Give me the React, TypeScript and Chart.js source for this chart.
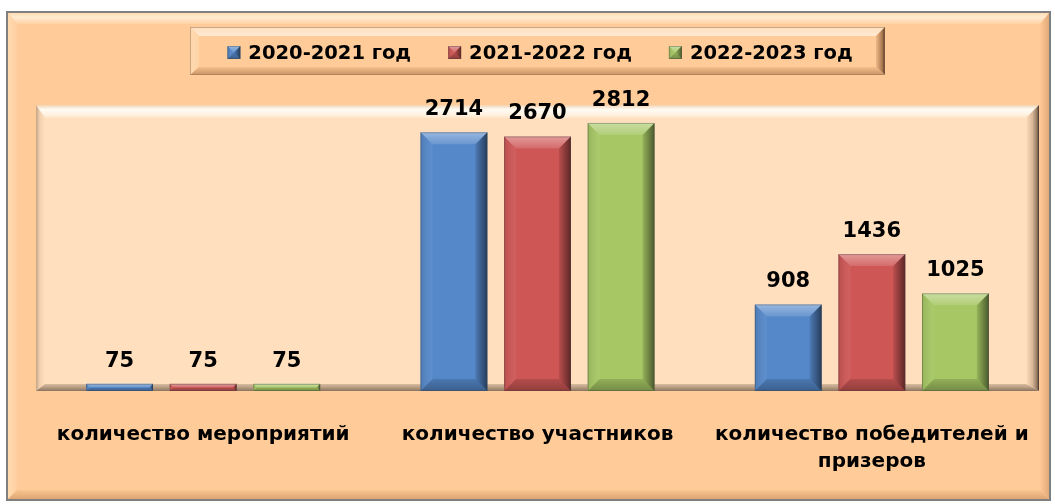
import React, { useEffect, useRef } from "react";
import { Chart, registerables } from "chart.js";

Chart.register(...registerables);

// ---- data ----
const categories: (string | string[])[] = [
  "количество мероприятий",
  "количество участников",
  ["количество победителей и", "призеров"],
];
const seriesNames = ["2020-2021 год", "2021-2022 год", "2022-2023 год"];
const values2020 = [75, 2714, 908];
const values2021 = [75, 2670, 1436];
const values2022 = [75, 2812, 1025];
const seriesColors = ["#5588C9", "#CE5756", "#A6C764"];
const yMin = 0;
const yMax = 3000;

const FONT = "'DejaVu Sans', 'Open Sans', sans-serif";

type Stops = [number, string][];

function grad(ctx: CanvasRenderingContext2D, x0: number, y0: number, x1: number, y1: number, stops: Stops) {
  const g = ctx.createLinearGradient(x0, y0, x1, y1);
  stops.forEach(([o, c]) => g.addColorStop(o, c));
  return g;
}

function poly(ctx: CanvasRenderingContext2D, pts: number[][], fill: any) {
  ctx.beginPath();
  ctx.moveTo(pts[0][0], pts[0][1]);
  for (let i = 1; i < pts.length; i++) ctx.lineTo(pts[i][0], pts[i][1]);
  ctx.closePath();
  ctx.fillStyle = fill;
  ctx.fill();
}

function bevel(
  ctx: CanvasRenderingContext2D,
  l: number, t: number, r: number, b: number,
  fill: any,
  s: { t: number; l: number; r: number; b: number },
  st: { t: Stops; l: Stops; r: Stops; b: Stops }
) {
  ctx.fillStyle = fill;
  ctx.fillRect(l, t, r - l, b - t);
  poly(ctx, [[l, t], [r, t], [r - s.r, t + s.t], [l + s.l, t + s.t]], grad(ctx, 0, t, 0, t + s.t, st.t));
  poly(ctx, [[l, t], [l + s.l, t + s.t], [l + s.l, b - s.b], [l, b]], grad(ctx, l, 0, l + s.l, 0, st.l));
  poly(ctx, [[r, t], [r, b], [r - s.r, b - s.b], [r - s.r, t + s.t]], grad(ctx, r - s.r, 0, r, 0, st.r));
  poly(ctx, [[l, b], [r, b], [r - s.r, b - s.b], [l + s.l, b - s.b]], grad(ctx, 0, b - s.b, 0, b, st.b));
}

function barBevel(ctx: CanvasRenderingContext2D, l: number, t: number, r: number, b: number) {
  const s = Math.max(0, Math.min(12, (r - l) / 2, (b - t) / 2));
  poly(ctx, [[l, t], [r, t], [r - s, t + s], [l + s, t + s]],
    grad(ctx, 0, t, 0, t + s, [[0, "rgba(255,255,255,0.4)"], [1, "rgba(255,255,255,0.12)"]]));
  poly(ctx, [[l, t], [l + s, t + s], [l + s, b - s], [l, b]],
    grad(ctx, l, 0, l + s, 0, [[0, "rgba(0,0,0,0.1)"], [1, "rgba(255,255,255,0.05)"]]));
  poly(ctx, [[r, t], [r, b], [r - s, b - s], [r - s, t + s]],
    grad(ctx, r - s, 0, r, 0, [[0, "rgba(0,0,0,0.1)"], [1, "rgba(0,0,0,0.55)"]]));
  poly(ctx, [[l, b], [r, b], [r - s, b - s], [l + s, b - s]],
    grad(ctx, 0, b - s, 0, b, [[0, "rgba(0,0,0,0.12)"], [1, "rgba(0,0,0,0.3)"]]));
  ctx.strokeStyle = "rgba(60,60,60,0.35)";
  ctx.lineWidth = 1;
  ctx.strokeRect(l + 0.5, t + 0.5, r - l - 1, b - t - 1);
}

const backgroundPlugin = {
  id: "bgPanels",
  beforeDraw(chart: any) {
    const ctx: CanvasRenderingContext2D = chart.ctx;
    const W = chart.width, H = chart.height;
    ctx.save();
    ctx.fillStyle = "#FFFFFF";
    ctx.fillRect(0, 0, W, H);

    // outer frame
    bevel(ctx, 8, 13, 1049, 499, "#FFCC99",
      { t: 11, l: 9, r: 9, b: 9 },
      {
        t: [[0, "#FFDDB5"], [0.4, "#FFEAD0"], [1, "#FFD2A2"]],
        l: [[0, "#FFDAB0"], [1, "#FFCFA0"]],
        r: [[0, "#FFC895"], [1, "#E0AA7A"]],
        b: [[0, "#F9C590"], [1, "#DDA674"]],
      });
    ctx.strokeStyle = "#7F7F7F";
    ctx.lineWidth = 2;
    ctx.strokeRect(7, 12, 1043, 488);

    // plot panel
    const a = chart.chartArea;
    bevel(ctx, a.left, a.top, a.right, a.bottom, "#FFDFBE",
      { t: 13, l: 9, r: 13, b: 7 },
      {
        t: [[0, "#F2D4B4"], [0.35, "#FFFBF3"], [0.7, "#FFF3E3"], [1, "#FFE5C9"]],
        l: [[0, "#C4A486"], [0.4, "#EFCFAE"], [1, "#FFDFBE"]],
        r: [[0, "#FFDFBE"], [0.5, "#D6B696"], [0.85, "#947860"], [1, "#403228"]],
        b: [[0, "#D8BCA0"], [0.5, "#B89C82"], [1, "#8A7460"]],
      });

    // legend box
    bevel(ctx, 190, 27, 885, 75, "#FFCC99",
      { t: 9, l: 9, r: 9, b: 8 },
      {
        t: [[0, "#FFDFBE"], [1, "#FFE9D2"]],
        l: [[0, "#FFD9B0"], [1, "#FFD5A8"]],
        r: [[0, "#F0B888"], [0.7, "#A87850"], [1, "#4A3020"]],
        b: [[0, "#F4BE8A"], [1, "#C89466"]],
      });
    ctx.strokeStyle = "rgba(150,110,80,0.5)";
    ctx.lineWidth = 1;
    ctx.strokeRect(190.5, 27.5, 694, 47);

    // legend items
    ctx.font = `bold 19.5px ${FONT}`;
    ctx.textBaseline = "alphabetic";
    ctx.textAlign = "left";
    const sq = 13, gapSq = 8, gapItem = 37;
    const widths = chart.data.datasets.map((d: any) => ctx.measureText(d.label).width);
    const total = widths.reduce((s: number, w: number) => s + w + sq + gapSq, 0) + gapItem * (widths.length - 1);
    let x = 540 - total / 2;
    chart.data.datasets.forEach((d: any, i: number) => {
      ctx.fillStyle = d.backgroundColor;
      ctx.fillRect(x, 46, sq, sq);
      barBevel(ctx, x, 46, x + sq, 46 + sq);
      ctx.fillStyle = "#000";
      ctx.fillText(d.label, x + sq + gapSq, 59);
      x += sq + gapSq + widths[i] + gapItem;
    });
    ctx.restore();
  },
};

const barDecorPlugin = {
  id: "barDecor",
  afterDatasetsDraw(chart: any) {
    const ctx: CanvasRenderingContext2D = chart.ctx;
    ctx.save();
    chart.data.datasets.forEach((ds: any, di: number) => {
      const meta = chart.getDatasetMeta(di);
      meta.data.forEach((el: any, i: number) => {
        const { x, y, base, width } = el.getProps(["x", "y", "base", "width"], true);
        barBevel(ctx, x - width / 2, Math.min(y, base), x + width / 2, Math.max(y, base));
        ctx.font = `bold 21px ${FONT}`;
        ctx.fillStyle = "#000";
        ctx.textAlign = "center";
        ctx.textBaseline = "alphabetic";
        ctx.fillText(String(ds.data[i]), x, y - 17);
      });
    });
    ctx.restore();
  },
};

export default function App() {
  const ref = useRef<HTMLCanvasElement | null>(null);
  useEffect(() => {
    if (!ref.current) return;
    const seriesValues = [values2020, values2021, values2022];
    const chart = new Chart(ref.current, {
      type: "bar",
      data: {
        labels: categories as any,
        datasets: seriesNames.map((name, i) => ({
          label: name,
          data: seriesValues[i],
          backgroundColor: seriesColors[i],
          borderWidth: 0,
          barPercentage: 0.8,
          categoryPercentage: 0.75,
        })),
      },
      options: {
        animation: false,
        responsive: false,
        devicePixelRatio: 1,
        layout: { padding: { left: 36, right: 16, top: 105, bottom: 0 } },
        plugins: { legend: { display: false }, tooltip: { enabled: false } },
        scales: {
          x: {
            grid: { display: false, drawTicks: false },
            border: { display: false },
            ticks: {
              color: "#000",
              font: { family: FONT, size: 20, weight: "bold", lineHeight: 1.35 },
              padding: 30,
              maxRotation: 0,
              minRotation: 0,
              autoSkip: false,
            },
            afterFit: (s: any) => {
              s.height = 113;
              s.paddingLeft = 0;
              s.paddingRight = 0;
            },
          },
          y: { display: false, min: yMin, max: yMax },
        },
      },
      plugins: [backgroundPlugin, barDecorPlugin],
    } as any);
    return () => chart.destroy();
  }, []);
  return (
    <div style={{ position: "absolute", left: 0, top: 0, width: 1055, height: 504, background: "#fff" }}>
      <canvas ref={ref} width={1055} height={504} style={{ display: "block", width: 1055, height: 504 }} />
    </div>
  );
}
